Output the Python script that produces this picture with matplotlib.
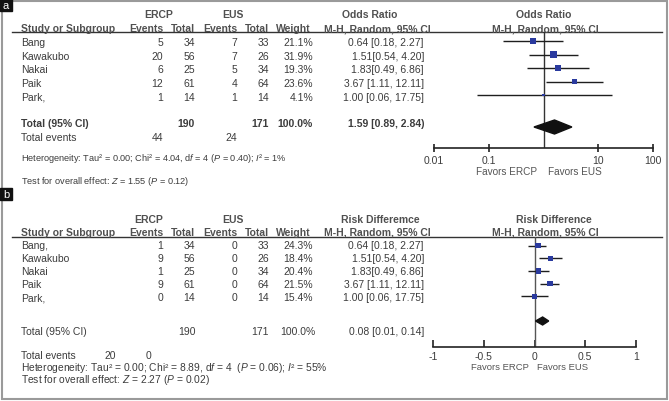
import matplotlib
matplotlib.use('Agg')
from matplotlib import pyplot as plt
from matplotlib.patches import Polygon, Rectangle
import numpy as np

plt.rcParams['font.family'] = ['Liberation Sans', 'DejaVu Sans']
plt.rcParams['mathtext.fontset'] = 'custom'
plt.rcParams['mathtext.rm'] = 'Liberation Sans'
plt.rcParams['mathtext.it'] = 'Liberation Sans:italic'

W, H = 669, 402
TXT = '#3c3c3c'
HDR = '#505050'
BLUE = '#2a3a9e'

# ---- data, panel a (odds ratio)
studies_a = ["Bang", "Kawakubo", "Nakai", "Paik", "Park,"]
ercp_events_a = [5, 20, 6, 12, 1]
ercp_total = [34, 56, 25, 61, 14]
eus_events_a = [7, 7, 5, 4, 1]
eus_total = [33, 26, 34, 64, 14]
weight_a = [21.1, 31.9, 19.3, 23.6, 4.1]
or_est = [0.64, 1.51, 1.83, 3.67, 1.00]
or_lo = [0.18, 0.54, 0.49, 1.11, 0.06]
or_hi = [2.27, 4.20, 6.86, 12.11, 17.75]
effect_labels = ["0.64 [0.18, 2.27]", "1.51[0.54, 4.20]", "1.83[0.49, 6.86]",
                 "3.67 [1.11, 12.11]", "1.00 [0.06, 17.75]"]
total_or = (0.67, 1.59, 3.3)  # diamond as drawn
total_or_label = "1.59 [0.89, 2.84)"
tot_events_a = (44, 24)

# ---- data, panel b (risk difference)
studies_b = ["Bang,", "Kawakubo", "Nakai", "Paik", "Park,"]
ercp_events_b = [1, 9, 1, 9, 0]
eus_events_b = [0, 0, 0, 0, 0]
weight_b = [24.3, 18.4, 20.4, 21.5, 15.4]
rd_est = [0.03, 0.16, 0.04, 0.15, 0.00]
rd_lo = [-0.06, 0.04, -0.06, 0.05, -0.13]
rd_hi = [0.11, 0.27, 0.14, 0.24, 0.13]
total_rd = (0.01, 0.08, 0.14)
total_rd_label = "0.08 [0.01, 0.14]"
tot_events_b = (20, 0)

fig = plt.figure(figsize=(W / 100, H / 100), dpi=100)
ax = fig.add_axes([0, 0, 1, 1])
ax.set_xlim(0, W)
ax.set_ylim(H, 0)
ax.axis('off')

FS = 7.5


def t(x, y, s, ha='left', bold=False, fs=FS, color=TXT):
    ax.text(x, y, s, ha=ha, va='center', fontsize=fs, color=color,
            fontweight='bold' if bold else 'normal')


def forest_axes(x0, x1, y0, y1):
    a = fig.add_axes([x0 / W, 1 - y1 / H, (x1 - x0) / W, (y1 - y0) / H])
    a.set_ylim(y1, y0)
    for s in ['top', 'left', 'right']:
        a.spines[s].set_visible(False)
    a.spines['bottom'].set_linewidth(1.2)
    a.spines['bottom'].set_color('#222222')
    a.set_yticks([])
    a.patch.set_alpha(0)
    return a


def table(y_h1, y_h2, y_line, rows_y, studies, e1, t1, e2, t2, wts, labels, ercp_x):
    t(ercp_x, y_h1, "ERCP", ha='center', bold=True, color=HDR)
    t(233, y_h1, "EUS", ha='center', bold=True, color=HDR)
    t(21, y_h2, "Study or Subgroup", bold=True, color=HDR)
    for x, s in [(163, "Events"), (195, "Total"), (237, "Events"), (269, "Total"), (311, "Weight")]:
        t(x, y_h2, s, ha='right', bold=True, color=HDR)
    t(377, y_h2, "M-H, Random, 95% CI", ha='center', bold=True, color=HDR)
    ax.plot([12, 662], [y_line, y_line], color='#333333', lw=1)
    for i, y in enumerate(rows_y):
        t(21, y, studies[i])
        t(163, y, str(e1[i]), ha='right')
        t(195, y, str(t1[i]), ha='right')
        t(237, y, str(e2[i]), ha='right')
        t(269, y, str(t2[i]), ha='right')
        t(313, y, f"{wts[i]:.1f}%", ha='right')
        t(424, y, labels[i], ha='right')


def squares(a, est, lo, hi, wts, ys):
    a.hlines(ys, lo, hi, color='#1e1e1e', lw=1)
    side = 1.2 * np.sqrt(wts) * 0.72
    a.scatter(est, ys, marker='s', s=side ** 2, color=BLUE, zorder=3, linewidths=0)


# ================= panel a =================
rows_a = 43 + 13.7 * np.arange(5)
table(15, 29, 33, rows_a, studies_a, ercp_events_a, ercp_total, eus_events_a, eus_total,
      weight_a, effect_labels, 159)
t(370, 15, "Odds Ratio", ha='center', bold=True, color=HDR)
t(544, 15, "Odds Ratio", ha='center', bold=True, color=HDR)
t(545, 29, "M-H, Random, 95% CI", ha='center', bold=True, color=HDR)
t(21, 124, "Total (95% CI)", bold=True)
t(195, 124, str(sum(ercp_total)), ha='right', bold=True)
t(269, 124, str(sum(eus_total)), ha='right', bold=True)
t(313, 124, "100.0%", ha='right', bold=True)
t(424, 124, total_or_label, ha='right', bold=True)
t(21, 138, "Total events")
t(163, 138, str(tot_events_a[0]), ha='right')
t(237, 138, str(tot_events_a[1]), ha='right')
t(21, 159, "Heterogeneity: Tau² = 0.00; Chi² = 4.04, d$f$ = 4 ($P$ = 0.40); $I$² = 1%", fs=6.6)
t(21, 182, "Test for overall effect: $Z$ = 1.55 ($P$ = 0.12)", fs=6.6)

fa = forest_axes(434, 653, 33, 149)
fa.set_xscale('log')
fa.set_xlim(0.01, 100)
fa.set_xticks([0.01, 0.1, 10, 100])
fa.set_xticklabels(["0.01", "0.1", "10", "100"])
fa.minorticks_off()
fa.tick_params(axis='x', direction='inout', length=6, width=1.2, color='#222222',
               labelsize=FS, labelcolor=TXT, pad=2)
fa.axvline(1, color='#333333', lw=1)
squares(fa, or_est, or_lo, or_hi, weight_a, 42 + 13.5 * np.arange(5))
lo, mid, hi = total_or
fa.add_patch(Polygon([(lo, 128), (mid, 121), (hi, 128), (mid, 135)], closed=True,
                     color='#111111', zorder=4))
t(507, 172, "Favors ERCP", ha='center', color='#555555', fs=7.2)
t(575, 172, "Favors EUS", ha='center', color='#555555', fs=7.2)

# ================= panel b =================
rows_b = 246.5 + 12.9 * np.arange(5)
table(220, 233, 238, rows_b, studies_b, ercp_events_b, ercp_total, eus_events_b, eus_total,
      weight_b, effect_labels, 149)
t(380, 220, "Risk Differemce", ha='center', bold=True, color=HDR)
t(554, 220, "Risk Difference", ha='center', bold=True, color=HDR)
t(545, 233, "M-H, Random, 95% CI", ha='center', bold=True, color=HDR)
t(21, 332, "Total (95% CI)")
t(196, 332, str(sum(ercp_total)), ha='right')
t(269, 332, str(sum(eus_total)), ha='right')
t(315, 332, "100.0%", ha='right')
t(424, 332, total_rd_label, ha='right')
t(21, 356.5, "Total events", fs=7.4)
t(110, 356.5, str(tot_events_b[0]), ha='center', fs=7.4)
t(149, 356.5, str(tot_events_b[1]), ha='center', fs=7.4)
t(21, 368, "Heterogeneity: Tau² = 0.00; Chi² = 8.89, d$f$ = 4  ($P$ = 0.06); $I$² = 55%", fs=7.4)
t(21, 380.5, "Test for overall effect: $Z$ = 2.27 ($P$ = 0.02)", fs=7.4)

fb = forest_axes(433, 636, 238, 348)
fb.set_xlim(-1, 1)
fb.set_xticks([-1, -0.5, 0, 0.5, 1])
fb.set_xticklabels(["-1", "-0.5", "0", "0.5", "1"])
fb.tick_params(axis='x', direction='in', length=5, width=1.2, color='#222222',
               labelsize=FS, labelcolor=TXT, pad=3)
fb.axvline(0, color='#555555', lw=1)
squares(fb, rd_est, rd_lo, rd_hi, weight_b, 246.5 + 12.7 * np.arange(5))
lo, mid, hi = total_rd
fb.add_patch(Polygon([(lo, 322), (mid, 318), (hi, 322), (mid, 326)], closed=True,
                     color='#111111', zorder=4))
t(500, 368, "Favors ERCP", ha='center', color='#555555', fs=6.8)
t(563, 368, "Favors EUS", ha='center', color='#555555', fs=6.8)

# ---- frame and panel letters
ax.add_patch(Rectangle((1.5, 1.5), W - 3.5, H - 3.5, fill=False, ec='#9a9a9a', lw=1.5))
for y0, letter in [(0, "a"), (189, "b")]:
    ax.add_patch(Rectangle((0, y0), 12, 12, color='#111111', zorder=5))
    ax.text(6, y0 + 6, letter, ha='center', va='center', color='white', fontsize=8, zorder=6)

fig.savefig('out.png', dpi=100)
